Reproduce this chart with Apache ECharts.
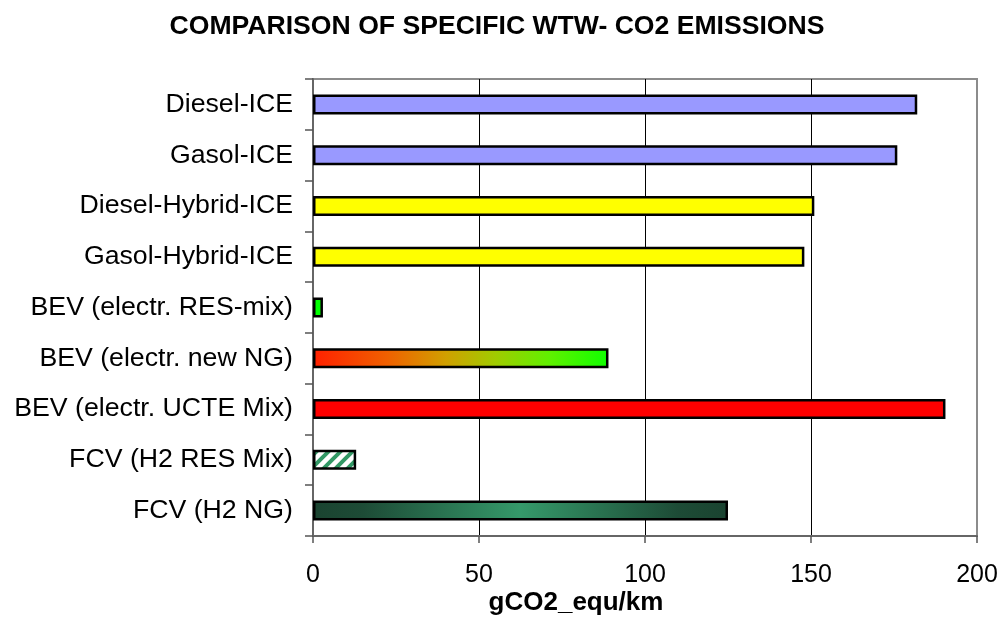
<!DOCTYPE html>
<html>
<head>
<meta charset="utf-8">
<script src="https://cdn.jsdelivr.net/npm/echarts@6/dist/echarts.min.js"></script>
<style>
html,body{margin:0;padding:0;background:#fff;}
#chart{width:1003px;height:625px;}
</style>
</head>
<body>
<div id="chart"></div>
<script>
const categories = ['Diesel-ICE','Gasol-ICE','Diesel-Hybrid-ICE','Gasol-Hybrid-ICE','BEV (electr. RES-mix)','BEV (electr. new NG)','BEV (electr. UCTE Mix)','FCV (H2 RES Mix)','FCV (H2 NG)'];
const values = [182, 176, 151, 148, 3, 89, 190.5, 13, 125];
const xTicks = [0, 50, 100, 150, 200];
const chartTitle = 'COMPARISON OF SPECIFIC WTW- CO2 EMISSIONS';
const xAxisTitle = 'gCO2_equ/km';

const FONT = "'Liberation Sans', Arial, sans-serif";

// hatch pattern for FCV (H2 RES Mix)
const hatch = document.createElement('canvas');
hatch.width = 12; hatch.height = 12;
(function(){
  const g = hatch.getContext('2d');
  g.fillStyle = '#ffffff'; g.fillRect(0,0,12,12);
  g.strokeStyle = '#339966'; g.lineWidth = 4;
  g.beginPath();
  g.moveTo(-3,15); g.lineTo(15,-3);
  g.moveTo(-9,9); g.lineTo(9,-9);
  g.moveTo(3,21); g.lineTo(21,3);
  g.stroke();
})();

const fills = [
  '#9999ff',
  '#9999ff',
  '#ffff00',
  '#ffff00',
  '#00ff00',
  new echarts.graphic.LinearGradient(0,0,1,0,[
    {offset:0,color:'#ff2000'},{offset:0.25,color:'#f06000'},{offset:0.45,color:'#d0a000'},
    {offset:0.62,color:'#a0cc00'},{offset:0.8,color:'#60f000'},{offset:1,color:'#10ff00'}]),
  '#ff0000',
  {image: hatch, repeat: 'repeat'},
  new echarts.graphic.LinearGradient(0,0,1,0,[
    {offset:0,color:'#1a4330'},{offset:0.12,color:'#1d4b36'},{offset:0.5,color:'#35996a'},
    {offset:0.88,color:'#1d4b36'},{offset:1,color:'#1a4330'}])
];

const chart = echarts.init(document.getElementById('chart'), null, {renderer:'canvas'});
chart.setOption({
  animation: false,
  backgroundColor: '#ffffff',
  title: {
    text: chartTitle,
    left: 492, top: 8, textAlign: 'center',
    textStyle: {fontFamily: FONT, fontSize: 26.6, fontWeight: 'bold', color: '#000'}
  },
  graphic: [{
    type: 'text', x: 576, y: 603,
    style: {text: xAxisTitle, font: "bold 26px " + FONT, fill: '#000', textAlign: 'center', textVerticalAlign: 'middle'}
  }],
  grid: {
    left: 313, right: 26, top: 79, bottom: 89,
    show: true, borderColor: '#8c8c8c', borderWidth: 2, backgroundColor: '#fff'
  },
  xAxis: {
    type: 'value', min: xTicks[0], max: xTicks[xTicks.length-1], interval: 50,
    axisLine: {show: true, lineStyle: {color: '#666', width: 2}},
    axisTick: {show: true, length: 7, lineStyle: {color: '#555', width: 1.5}},
    axisLabel: {margin: 27, fontFamily: FONT, fontSize: 25, color: '#000'},
    splitLine: {show: true, lineStyle: {color: ['#8c8c8c','#000','#000','#000','#8c8c8c'], width: 1}}
  },
  yAxis: {
    type: 'category', data: categories, inverse: true,
    axisLine: {show: true, lineStyle: {color: '#666', width: 2}},
    axisTick: {show: true, length: 8, lineStyle: {color: '#555', width: 1.5}},
    axisLabel: {margin: 20, fontFamily: FONT, fontSize: 26.7, color: '#000'},
    splitLine: {show: false}
  },
  series: [{
    type: 'bar',
    barWidth: 20,
    data: values.map((v, i) => ({value: v, itemStyle: {color: fills[i]}})),
    itemStyle: {borderColor: '#000', borderWidth: 2.5}
  }]
});
</script>
</body>
</html>
